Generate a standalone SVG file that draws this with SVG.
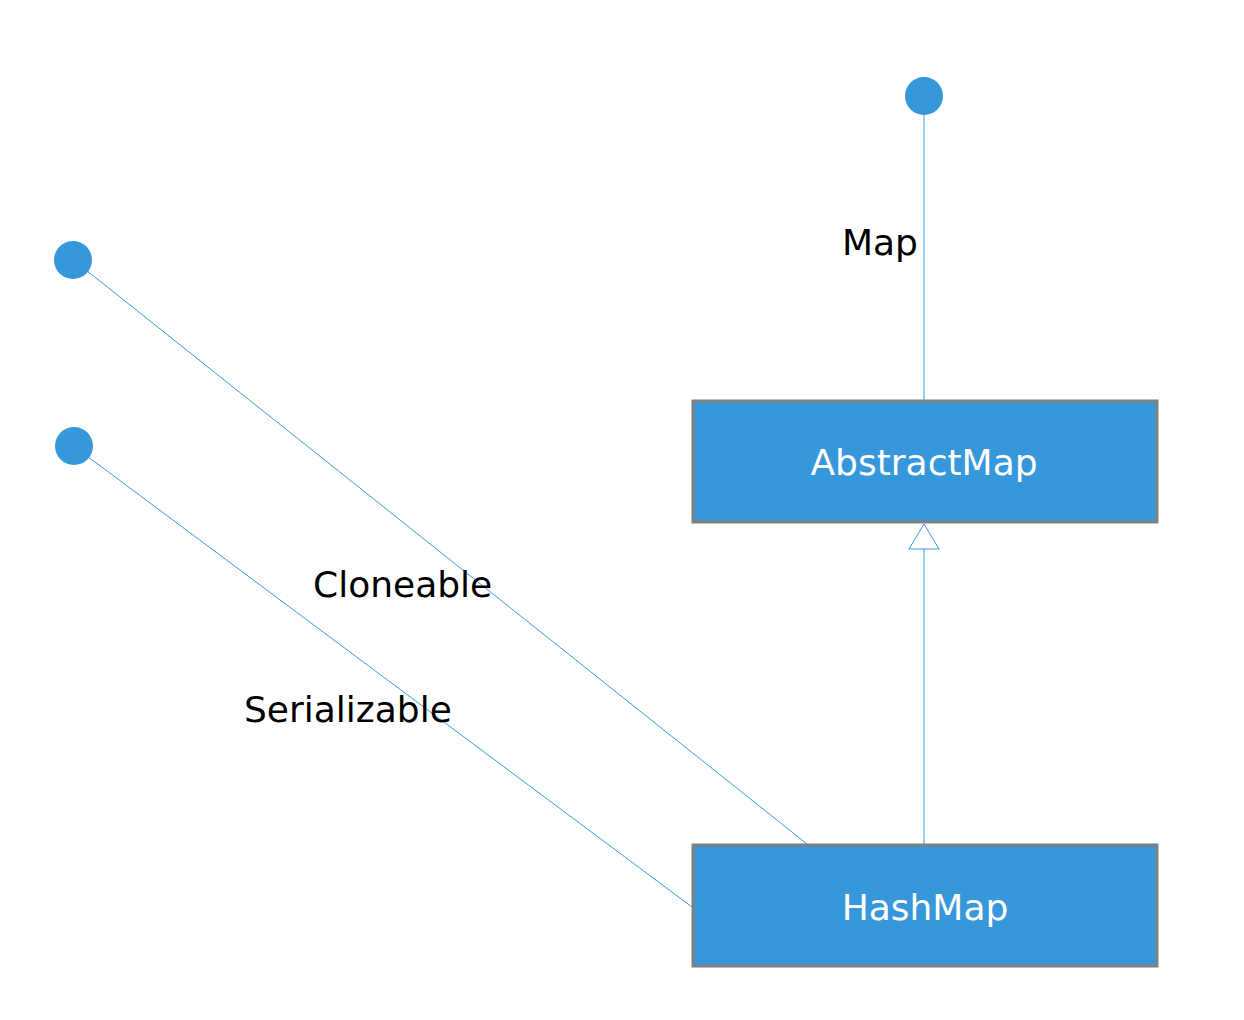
<svg xmlns="http://www.w3.org/2000/svg" width="1244" height="1020" viewBox="0 0 1244 1020">
<style>
.box{fill:#3797db;stroke:#808080;stroke-width:3}
.btxt{font-family:"DejaVu Sans",sans-serif;font-size:36px;fill:#ffffff;text-anchor:middle}
.lbl{font-family:"DejaVu Sans",sans-serif;font-size:36px;fill:#000000}
.dot{fill:#3797db}
.ln{stroke:#3a9be0;stroke-width:1;fill:none}
</style>
<rect width="1244" height="1020" fill="#ffffff"/>
<g id="connectors">
<line class="ln" x1="924" y1="112" x2="924" y2="400"/>
<line class="ln" x1="86" y1="270" x2="807" y2="844"/>
<line class="ln" x1="87" y1="456" x2="692" y2="907"/>
<line class="ln" x1="924" y1="844" x2="924" y2="549"/>
<polygon points="924,524 909,549 939,549" fill="#ffffff" stroke="#3a9be0" stroke-width="1"/>
</g>
<g id="map-iface"><circle class="dot" cx="924" cy="96" r="19"/></g>
<g id="cloneable-iface"><circle class="dot" cx="73" cy="260" r="19"/></g>
<g id="serializable-iface"><circle class="dot" cx="74" cy="446" r="19"/></g>
<g id="labels">
<text class="lbl" x="842" y="255">Map</text>
<text class="lbl" x="313" y="597">Cloneable</text>
<text class="lbl" x="244" y="722">Serializable</text>
</g>
<g id="abstractmap"><rect class="box" x="693" y="401" width="464" height="121"/><text class="btxt" x="924" y="475">AbstractMap</text></g>
<g id="hashmap"><rect class="box" x="693" y="845" width="464" height="121"/><text class="btxt" x="925" y="920">HashMap</text></g>
</svg>
